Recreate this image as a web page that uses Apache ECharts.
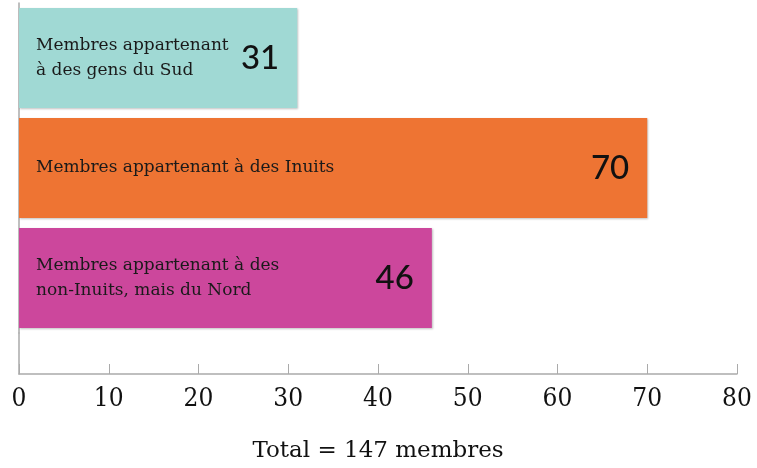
<!DOCTYPE html>
<html>
<head>
<meta charset="utf-8">
<script src="https://cdn.jsdelivr.net/npm/echarts@6/dist/echarts.min.js"></script>
<style>
  html, body { margin: 0; padding: 0; background: #fff; }
  #myChart { width: 757px; height: 468px; }
</style>
</head>
<body>
<div id="myChart"></div>
<script>
// données du graphique
const categories = [
  "Membres appartenant\nà des gens du Sud",
  "Membres appartenant à des Inuits",
  "Membres appartenant à des\nnon-Inuits, mais du Nord"
];
const membres = [31, 70, 46];
const barColors = ["#a0d9d4", "#ee7433", "#cc479c"];
const xTicks = [0, 10, 20, 30, 40, 50, 60, 70, 80];
const totalLabel = "Total = 147 membres";

let myChart = echarts.init(document.getElementById("myChart"));

const axisGray = "#aaaaaa";

let option = {
  animation: false,
  grid: [
    { left: 19, right: 20, top: 3, bottom: 135 },
    // petite grille vide : prolonge l'axe vertical jusqu'à l'axe des x
    { left: 19, right: 20, top: 333, bottom: 94 }
  ],
  xAxis: [
    {
      type: "value",
      gridIndex: 0,
      min: xTicks[0],
      max: xTicks[xTicks.length - 1],
      interval: 10,
      offset: 41,
      axisLine: { show: true, lineStyle: { color: axisGray, width: 1.5 } },
      axisTick: { show: true, inside: true, length: 10, lineStyle: { color: axisGray } },
      splitLine: { show: false },
      axisLabel: {
        color: "#111",
        fontSize: 26,
        fontFamily: "DejaVu Serif Condensed, DejaVu Serif",
        margin: 12
      },
      name: totalLabel,
      nameLocation: "middle",
      nameGap: 66,
      nameTextStyle: {
        color: "#111",
        fontSize: 23,
        fontFamily: "DejaVu Serif"
      }
    },
    {
      type: "value",
      gridIndex: 1,
      min: 0,
      max: 80,
      show: false
    }
  ],
  yAxis: [
    {
      type: "category",
      gridIndex: 0,
      inverse: true,
      data: categories,
      axisLine: { show: true, lineStyle: { color: axisGray, width: 1.5 } },
      axisTick: { show: false },
      axisLabel: { show: false }
    },
    {
      type: "value",
      gridIndex: 1,
      min: 0,
      max: 1,
      axisLine: { show: true, lineStyle: { color: axisGray, width: 1.5 } },
      axisTick: { show: false },
      axisLabel: { show: false },
      splitLine: { show: false }
    }
  ],
  series: [
    {
      type: "bar",
      barWidth: 100,
      data: membres.map((v, i) => ({ value: v, itemStyle: { color: barColors[i] } })),
      itemStyle: { shadowColor: "rgba(0,0,0,0.25)", shadowBlur: 2, shadowOffsetX: 1, shadowOffsetY: 1 },
      label: {
        show: true,
        position: "insideLeft",
        distance: 17,
        formatter: (p) => categories[p.dataIndex],
        color: "#1a1a1a",
        fontSize: 17,
        lineHeight: 25,
        fontFamily: "DejaVu Serif"
      }
    },
    {
      type: "bar",
      barWidth: 100,
      barGap: "-100%",
      data: membres,
      itemStyle: { color: "rgba(0,0,0,0)" },
      label: {
        show: true,
        position: "insideRight",
        distance: 18,
        color: "#111",
        fontSize: 33,
        fontWeight: 500,
        fontFamily: "Lato"
      }
    }
  ]
};

myChart.setOption(option);
</script>
</body>
</html>
